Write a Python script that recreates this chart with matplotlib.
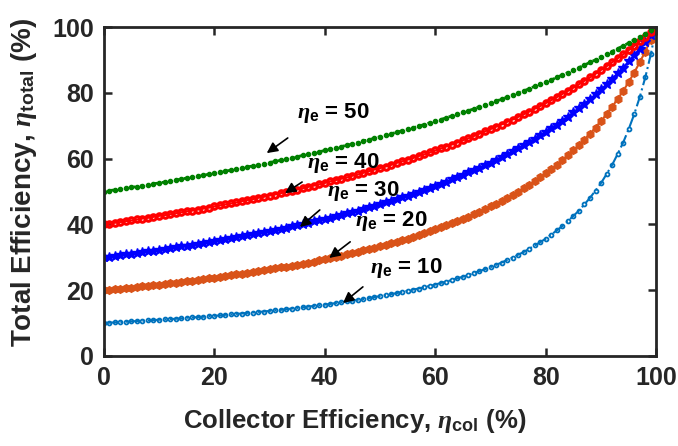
import numpy as np
import matplotlib.pyplot as plt

plt.rcParams['font.family'] = ['Liberation Sans', 'DejaVu Sans']
plt.rcParams['font.weight'] = 'bold'
plt.rcParams['mathtext.fontset'] = 'custom'
plt.rcParams['mathtext.it'] = 'Liberation Serif:italic'
plt.rcParams['mathtext.rm'] = 'Liberation Sans:bold'
plt.rcParams['mathtext.bf'] = 'Liberation Sans:bold'

# collector efficiency (%), 1 % steps
eta_col = list(range(0, 101))

# total efficiency (%) for each engine efficiency
eta_50 = [50.0, 50.3, 50.5, 50.8, 51.0, 51.3, 51.5, 51.8, 52.1, 52.4,
          52.6, 52.9, 53.2, 53.5, 53.8, 54.1, 54.3, 54.6, 54.9, 55.3,
          55.6, 55.9, 56.2, 56.5, 56.8, 57.1, 57.5, 57.8, 58.1, 58.5,
          58.8, 59.2, 59.5, 59.9, 60.2, 60.6, 61.0, 61.3, 61.7, 62.1,
          62.5, 62.9, 63.3, 63.7, 64.1, 64.5, 64.9, 65.4, 65.8, 66.2,
          66.7, 67.1, 67.6, 68.0, 68.5, 69.0, 69.4, 69.9, 70.4, 70.9,
          71.4, 71.9, 72.5, 73.0, 73.5, 74.1, 74.6, 75.2, 75.8, 76.3,
          76.9, 77.5, 78.1, 78.7, 79.4, 80.0, 80.6, 81.3, 82.0, 82.6,
          83.3, 84.0, 84.7, 85.5, 86.2, 87.0, 87.7, 88.5, 89.3, 90.1,
          90.9, 91.7, 92.6, 93.5, 94.3, 95.2, 96.2, 97.1, 98.0, 99.0,
          100.0]
eta_40 = [40.0, 40.2, 40.5, 40.7, 41.0, 41.2, 41.5, 41.8, 42.0, 42.3,
          42.6, 42.8, 43.1, 43.4, 43.7, 44.0, 44.2, 44.5, 44.8, 45.1,
          45.5, 45.8, 46.1, 46.4, 46.7, 47.1, 47.4, 47.7, 48.1, 48.4,
          48.8, 49.1, 49.5, 49.9, 50.3, 50.6, 51.0, 51.4, 51.8, 52.2,
          52.6, 53.1, 53.5, 53.9, 54.3, 54.8, 55.2, 55.7, 56.2, 56.7,
          57.1, 57.6, 58.1, 58.7, 59.2, 59.7, 60.2, 60.8, 61.3, 61.9,
          62.5, 63.1, 63.7, 64.3, 64.9, 65.6, 66.2, 66.9, 67.6, 68.3,
          69.0, 69.7, 70.4, 71.2, 71.9, 72.7, 73.5, 74.3, 75.2, 76.0,
          76.9, 77.8, 78.7, 79.7, 80.6, 81.6, 82.6, 83.7, 84.7, 85.8,
          87.0, 88.1, 89.3, 90.5, 91.7, 93.0, 94.3, 95.7, 97.1, 98.5,
          100.0]
eta_30 = [30.0, 30.2, 30.4, 30.6, 30.9, 31.1, 31.3, 31.5, 31.8, 32.0,
          32.3, 32.5, 32.8, 33.0, 33.3, 33.5, 33.8, 34.1, 34.3, 34.6,
          34.9, 35.2, 35.5, 35.8, 36.1, 36.4, 36.7, 37.0, 37.3, 37.6,
          38.0, 38.3, 38.7, 39.0, 39.4, 39.7, 40.1, 40.5, 40.9, 41.3,
          41.7, 42.1, 42.5, 42.9, 43.4, 43.8, 44.2, 44.7, 45.2, 45.7,
          46.2, 46.7, 47.2, 47.7, 48.2, 48.8, 49.3, 49.9, 50.5, 51.1,
          51.7, 52.4, 53.0, 53.7, 54.3, 55.0, 55.8, 56.5, 57.3, 58.0,
          58.8, 59.6, 60.5, 61.3, 62.2, 63.2, 64.1, 65.1, 66.1, 67.1,
          68.2, 69.3, 70.4, 71.6, 72.8, 74.1, 75.4, 76.7, 78.1, 79.6,
          81.1, 82.6, 84.3, 86.0, 87.7, 89.6, 91.5, 93.5, 95.5, 97.7,
          100.0]
eta_20 = [20.0, 20.2, 20.3, 20.5, 20.7, 20.8, 21.0, 21.2, 21.4, 21.6,
          21.7, 21.9, 22.1, 22.3, 22.5, 22.7, 22.9, 23.1, 23.4, 23.6,
          23.8, 24.0, 24.3, 24.5, 24.8, 25.0, 25.3, 25.5, 25.8, 26.0,
          26.3, 26.6, 26.9, 27.2, 27.5, 27.8, 28.1, 28.4, 28.7, 29.1,
          29.4, 29.8, 30.1, 30.5, 30.9, 31.3, 31.6, 32.1, 32.5, 32.9,
          33.3, 33.8, 34.2, 34.7, 35.2, 35.7, 36.2, 36.8, 37.3, 37.9,
          38.5, 39.1, 39.7, 40.3, 41.0, 41.7, 42.4, 43.1, 43.9, 44.6,
          45.5, 46.3, 47.2, 48.1, 49.0, 50.0, 51.0, 52.1, 53.2, 54.3,
          55.6, 56.8, 58.1, 59.5, 61.0, 62.5, 64.1, 65.8, 67.6, 69.4,
          71.4, 73.5, 75.8, 78.1, 80.6, 83.3, 86.2, 89.3, 92.6, 96.2,
          100.0]
eta_10 = [10.0, 10.1, 10.2, 10.3, 10.4, 10.5, 10.6, 10.7, 10.8, 10.9,
          11.0, 11.1, 11.2, 11.3, 11.4, 11.6, 11.7, 11.8, 11.9, 12.1,
          12.2, 12.3, 12.5, 12.6, 12.8, 12.9, 13.1, 13.2, 13.4, 13.5,
          13.7, 13.9, 14.0, 14.2, 14.4, 14.6, 14.8, 15.0, 15.2, 15.4,
          15.6, 15.8, 16.1, 16.3, 16.6, 16.8, 17.1, 17.3, 17.6, 17.9,
          18.2, 18.5, 18.8, 19.1, 19.5, 19.8, 20.2, 20.5, 20.9, 21.3,
          21.7, 22.2, 22.6, 23.1, 23.6, 24.1, 24.6, 25.2, 25.8, 26.4,
          27.0, 27.7, 28.4, 29.2, 29.9, 30.8, 31.6, 32.6, 33.6, 34.6,
          35.7, 36.9, 38.2, 39.5, 41.0, 42.6, 44.2, 46.1, 48.1, 50.3,
          52.6, 55.3, 58.1, 61.4, 64.9, 69.0, 73.5, 78.7, 84.7, 91.7,
          100.0]

curve_labels = ['50', '40', '30', '20', '10']
# (text x, text y, arrow tail x, tail y, arrow head x, head y) in data units
label_pos = [(41.5, 73.8, 33.3, 66.3, 29.5, 61.7),
             (43.4, 58.6, 35.9, 52.9, 32.8, 49.5),
             (46.9, 50.3, 39.1, 44.4, 35.5, 39.2),
             (52.1, 40.9, 44.6, 34.7, 40.8, 29.8),
             (54.7, 26.6, 46.9, 21.0, 43.3, 16.1)]

dark = (0.15, 0.15, 0.15)

fig = plt.figure(figsize=(6.78, 4.46), dpi=100)
ax = fig.add_axes([0.153, 0.202, 0.815, 0.737])

ax.plot(eta_col, eta_10, linestyle='-.', marker='o', markersize=2.8,
        markerfacecolor='none', markeredgewidth=1.3, linewidth=1.5,
        color=(0.0, 0.447, 0.741))
ax.plot(eta_col, eta_20, linestyle='-', marker='h', markersize=5.5,
        linewidth=1.5, color=(0.85, 0.325, 0.098))
ax.plot(eta_col, eta_30, linestyle='-', marker='*', markersize=7.5,
        linewidth=1.5, color=(0.0, 0.0, 1.0))
ax.plot(eta_col, eta_40, linestyle='-', marker='o', markersize=4,
        markerfacecolor='none', markeredgewidth=2.2, linewidth=1.5,
        color=(1.0, 0.0, 0.0))
ax.plot(eta_col, eta_50, linestyle=':', marker='.', markersize=6,
        linewidth=2.0, color=(0.0, 0.5, 0.0))

for lab, (tx, ty, ax0, ay0, hx, hy) in zip(curve_labels, label_pos):
    ax.text(tx, ty, r'$\eta_{\mathrm{e}}$' + ' = ' + lab, fontsize=16,
            fontweight='bold', ha='center', va='center')
    ax.annotate('', xy=(hx, hy), xytext=(ax0, ay0),
                arrowprops=dict(arrowstyle='-|>', color='black', lw=1.2,
                                mutation_scale=16, shrinkA=0, shrinkB=0))

ax.set_xlim(0, 100)
ax.set_ylim(0, 100)
ax.set_xticks([0, 20, 40, 60, 80, 100])
ax.set_yticks([0, 20, 40, 60, 80, 100])
ax.tick_params(direction='in', length=6, width=1.8, labelsize=18,
               top=True, right=True, colors=dark, pad=7)
for lbl in ax.get_xticklabels() + ax.get_yticklabels():
    lbl.set_fontweight('bold')
for sp in ax.spines.values():
    sp.set_linewidth(2.0)
    sp.set_color(dark)

ax.set_xlabel(r'Collector Efficiency, $\eta_{\mathrm{col}}$ (%)', fontsize=18.5,
              fontweight='bold', color=dark)
ax.set_ylabel(r'Total Efficiency, $\eta_{\mathrm{total}}$ (%)', fontsize=20,
              fontweight='bold', color=dark)
ax.xaxis.set_label_coords(0.455, -0.155)
ax.yaxis.set_label_coords(-0.118, 0.526)

fig.savefig('out.png', dpi=100)
